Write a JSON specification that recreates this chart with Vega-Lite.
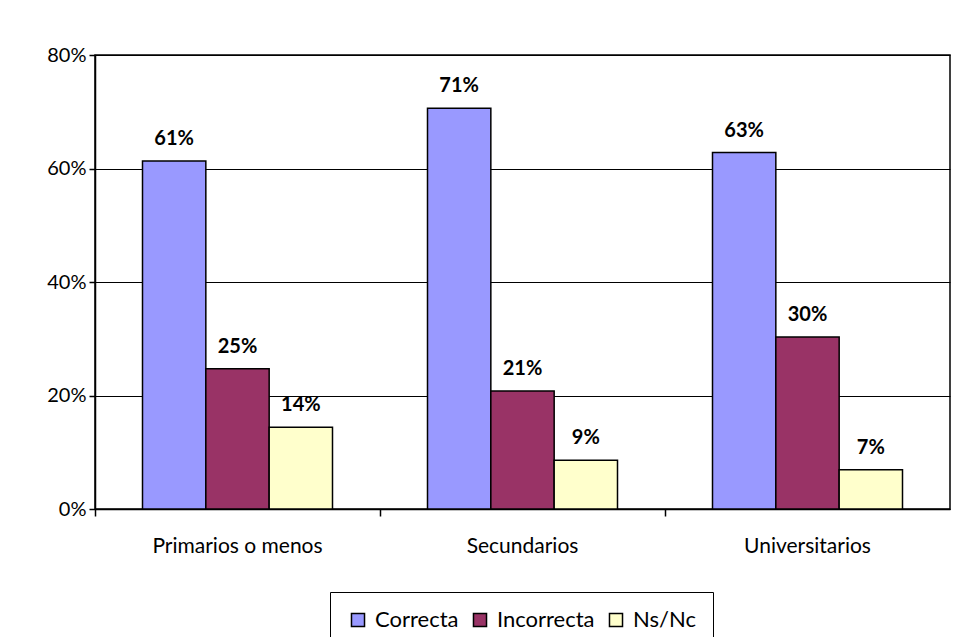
{
  "$schema": "https://vega.github.io/schema/vega-lite/v6.json",
  "autosize": {"type": "none"},
  "width": 855,
  "height": 454,
  "padding": {"left": 95, "top": 55, "right": 4, "bottom": 128},
  "background": "white",
  "config": {
    "font": "Lato",
    "view": {"stroke": "black", "strokeWidth": 1.5},
    "axis": {"labelFont": "Lato", "labelColor": "black", "domainColor": "black", "tickColor": "black"}
  },
  "data": {
    "values": [
      {"nivel": "Primarios o menos", "respuesta": "Correcta", "valor": 0.613},
      {"nivel": "Primarios o menos", "respuesta": "Incorrecta", "valor": 0.247},
      {"nivel": "Primarios o menos", "respuesta": "Ns/Nc", "valor": 0.144},
      {"nivel": "Secundarios", "respuesta": "Correcta", "valor": 0.706},
      {"nivel": "Secundarios", "respuesta": "Incorrecta", "valor": 0.208},
      {"nivel": "Secundarios", "respuesta": "Ns/Nc", "valor": 0.086},
      {"nivel": "Universitarios", "respuesta": "Correcta", "valor": 0.628},
      {"nivel": "Universitarios", "respuesta": "Incorrecta", "valor": 0.303},
      {"nivel": "Universitarios", "respuesta": "Ns/Nc", "valor": 0.069}
    ]
  },
  "encoding": {
    "x": {
      "field": "nivel", "type": "nominal", "sort": null, "title": null,
      "scale": {"paddingInner": 0, "paddingOuter": 0},
      "axis": {"labelAngle": 0, "labelFontSize": 21, "tickSize": 7, "tickWidth": 1.5, "bandPosition": 0, "labelPadding": 19, "domainWidth": 1.5}
    },
    "xOffset": {
      "field": "respuesta", "type": "nominal", "sort": ["Correcta", "Incorrecta", "Ns/Nc"],
      "scale": {"paddingInner": 0, "paddingOuter": 0.75}
    },
    "y": {
      "field": "valor", "type": "quantitative", "title": null,
      "scale": {"domain": [0, 0.8], "nice": false},
      "axis": {"values": [0, 0.2, 0.4, 0.6, 0.8], "format": ".0%", "labelFontSize": 20, "tickSize": 6, "tickWidth": 1.5, "labelPadding": 3, "grid": true, "gridColor": "black", "gridWidth": 1.2, "gridOpacity": 1, "domainWidth": 1.5}
    }
  },
  "layer": [
    {
      "mark": {"type": "bar", "stroke": "black", "strokeWidth": 1.5},
      "encoding": {
        "color": {
          "field": "respuesta", "type": "nominal", "sort": ["Correcta", "Incorrecta", "Ns/Nc"],
          "scale": {"domain": ["Correcta", "Incorrecta", "Ns/Nc"], "range": ["#9999FF", "#993366", "#FFFFCC"]},
          "legend": {
            "title": null, "orient": "none", "direction": "horizontal",
            "legendX": 235, "legendY": 537,
            "strokeColor": "black", "padding": 17, "fillColor": "white",
            "symbolType": "square", "symbolSize": 170, "symbolStrokeColor": "black", "symbolStrokeWidth": 1.5, "symbolOpacity": 1,
            "labelFontSize": 22, "labelColor": "black", "labelFont": "Lato", "labelOffset": 6, "columnPadding": 10
          }
        }
      }
    },
    {
      "mark": {"type": "text", "fontWeight": "bold", "fontSize": 20, "dy": -16, "baseline": "alphabetic", "color": "black"},
      "encoding": {
        "text": {"field": "valor", "type": "quantitative", "format": ".0%"}
      }
    }
  ]
}
